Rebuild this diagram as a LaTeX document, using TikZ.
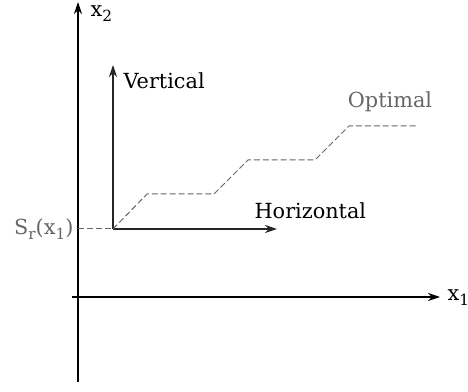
\documentclass[tikz,border=0pt]{standalone}
\usepackage{fontspec}
\setmainfont{DejaVu Serif}
\usetikzlibrary{arrows.meta}
\newcommand{\lowidx}[1]{\raisebox{-0.45ex}{\fontsize{11.5}{12}\selectfont #1}}
\begin{document}
\begin{tikzpicture}[
    x=0.75pt, y=-0.75pt,
    axis/.style={-{Stealth[length=9pt,width=6pt]}, line width=1pt, black},
    arr/.style={-{Stealth[length=9pt,width=6pt]}, line width=1pt, black!85},
    opt/.style={dash pattern=on 4.5pt off 2.2pt, black!60, line width=0.75pt},
    lbl/.style={font=\fontsize{15.6}{18}\selectfont, text=black},
    glbl/.style={font=\fontsize{15.6}{18}\selectfont, text=black!60},
]
\useasboundingbox (0,0) rectangle (468,392);

% Axes
\coordinate (xs) at (72,297);
\coordinate (xe) at (440,297);
\coordinate (ys) at (78,382);
\coordinate (ye) at (78,2);
\draw[axis] (xs) -- (xe);
\draw[axis] (ys) -- (ye);
\node[lbl, anchor=west, inner sep=1pt] (x1) at (446,298) {x\lowidx{1}};
\node[lbl, anchor=west, inner sep=1pt] (x2) at (89,14) {x\lowidx{2}};

% Start point and reference level
\coordinate (start) at (113,229);
\coordinate (axl) at (78,229);
\draw[opt] (axl) -- (start);
\node[glbl, anchor=east, inner sep=1pt] (sr) at (75,229) {S\lowidx{r}(x\lowidx{1})};

% Vertical and horizontal moves
\coordinate (vtop) at (113,65);
\coordinate (hend) at (277,229);
\draw[arr] (start) -- (vtop);
\draw[arr] (start) -- (hend);
\node[lbl, anchor=west, inner sep=1pt] (vert) at (122,81) {Vertical};
\node[lbl, anchor=west, inner sep=1pt] (hor) at (253,211) {Horizontal};

% Optimal staircase path
\draw[opt] (start) -- (147,194) -- (214,194) -- (248,160)
    -- (315,160) -- (349,126) -- (418,126);
\node[glbl] (optl) at (390,102) {Optimal};

\end{tikzpicture}
\end{document}
